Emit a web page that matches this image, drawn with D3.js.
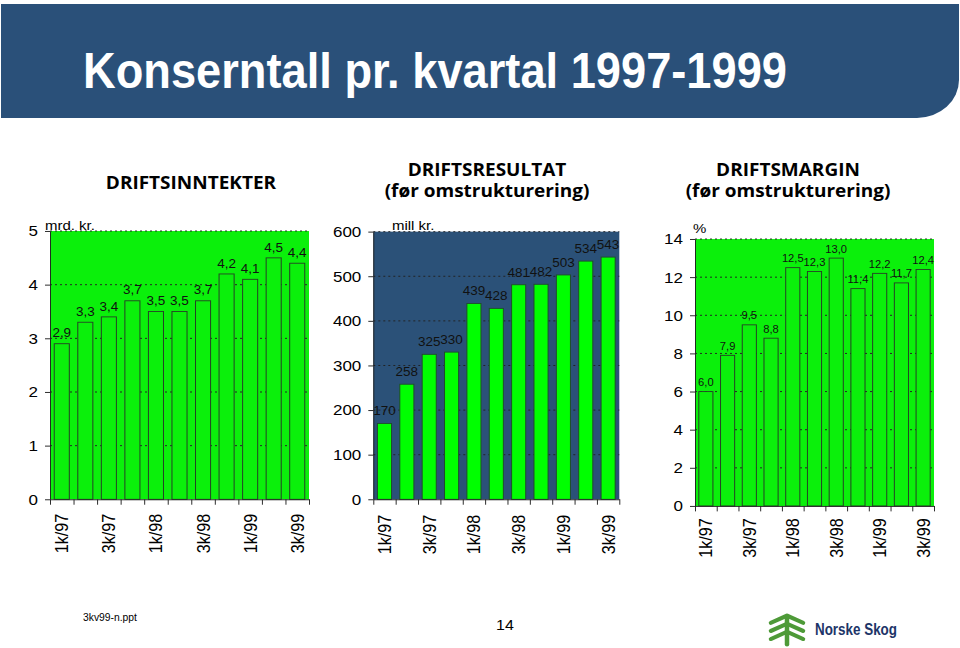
<!DOCTYPE html>
<html>
<head>
<meta charset="utf-8">
<script src="https://cdn.jsdelivr.net/npm/d3@7"></script>
<style>
  html, body { margin: 0; padding: 0; background: #ffffff; }
  svg { display: block; }
</style>
</head>
<body>
<svg id="chart" width="960" height="648"></svg>
<script>
// ---------------- DATA ----------------
const categories = ["1k/97","2k/97","3k/97","4k/97","1k/98","2k/98","3k/98","4k/98","1k/99","2k/99","3k/99"];
const tickLabels = ["1k/97","3k/97","1k/98","3k/98","1k/99","3k/99"];
const driftsinntekter = [2.9, 3.3, 3.4, 3.7, 3.5, 3.5, 3.7, 4.2, 4.1, 4.5, 4.4];      // mrd. kr.
const driftsresultat  = [170, 258, 325, 330, 439, 428, 481, 482, 503, 534, 543];      // mill kr.
const driftsmargin    = [6.0, 7.9, 9.5, 8.8, 12.5, 12.3, 13.0, 11.4, 12.2, 11.7, 12.4]; // %
const ticks1 = [0, 1, 2, 3, 4, 5];
const ticks2 = [0, 100, 200, 300, 400, 500, 600];
const ticks3 = [0, 2, 4, 6, 8, 10, 12, 14];

// ---------------- LAYOUT (slide drawn at 960x720, squeezed to 648) ----------------
const svg = d3.select("#chart");
const root = svg.append("g").attr("transform", "scale(1,0.9)");
const ARIAL = "'Liberation Sans', Arial, sans-serif";
const HEAD = "'Open Sans', 'Noto Sans', sans-serif";

// Banner
const bx0 = 1, by0 = 4.5, bx1 = 959, by1 = 131, r = 42;
root.append("path")
  .attr("d", `M${bx0},${by0} H${bx1} V${by1 - r} A${r},${r} 0 0 1 ${bx1 - r},${by1} H${bx0} Z`)
  .attr("fill", "#2a5079");
root.append("text")
  .attr("x", 83).attr("y", 98)
  .attr("font-family", ARIAL).attr("font-weight", "bold")
  .attr("font-size", 55).attr("fill", "#ffffff")
  .attr("textLength", 704).attr("lengthAdjust", "spacingAndGlyphs")
  .text("Konserntall pr. kvartal 1997-1999");

// Chart headings
function heading(lines, cx, y0) {
  lines.forEach((t, i) => {
    root.append("text")
      .attr("x", cx).attr("y", y0 + i * 23.5)
      .attr("text-anchor", "middle")
      .attr("font-family", HEAD).attr("font-weight", "bold")
      .attr("font-size", 19).attr("fill", "#000")
      .text(t);
  });
}
heading(["DRIFTSINNTEKTER"], 191, 210.5);
heading(["DRIFTSRESULTAT", "(før omstrukturering)"], 487, 195.5);
heading(["DRIFTSMARGIN", "(før omstrukturering)"], 788, 195.5);

function drawChart(cfg) {
  const g = root.append("g");
  const x = d3.scaleBand().domain(categories).range([cfg.x0, cfg.x1]).paddingInner(cfg.pad).paddingOuter(cfg.pad / 2);
  const xLin = d3.scaleLinear().domain([0, categories.length]).range([cfg.x0, cfg.x1]);
  const y = d3.scaleLinear().domain([0, d3.max(cfg.ticks)]).range([cfg.yBot, cfg.yTop]);

  // plot background
  g.append("rect")
    .attr("x", cfg.x0).attr("y", cfg.yTop)
    .attr("width", cfg.x1 - cfg.x0).attr("height", cfg.yBot - cfg.yTop)
    .attr("fill", cfg.bg);

  // gridlines
  g.selectAll("line.grid").data(cfg.ticks.filter(d => d > 0)).join("line")
    .attr("class", "grid")
    .attr("x1", cfg.x0).attr("x2", cfg.x1)
    .attr("y1", d => y(d)).attr("y2", d => y(d))
    .attr("stroke", "#222").attr("stroke-width", 1)
    .attr("stroke-dasharray", "2,3");

  // bars
  g.selectAll("rect.bar").data(cfg.values).join("rect")
    .attr("class", "bar")
    .attr("x", (d, i) => x(categories[i]))
    .attr("width", x.bandwidth())
    .attr("y", d => y(d))
    .attr("height", d => cfg.yBot - y(d))
    .attr("fill", cfg.barFill)
    .attr("stroke", cfg.barStroke).attr("stroke-width", 1);

  // value labels
  g.selectAll("text.val").data(cfg.values).join("text")
    .attr("class", "val")
    .attr("x", (d, i) => x(categories[i]) + x.bandwidth() / 2)
    .attr("y", d => y(d) - cfg.labelGap)
    .attr("text-anchor", "middle")
    .attr("font-family", ARIAL).attr("font-size", cfg.labelSize)
    .attr("fill", "#111")
    .text(cfg.fmt);

  // y axis
  const ya = g.append("g").attr("transform", `translate(${cfg.x0},0)`)
    .call(d3.axisLeft(y).tickValues(cfg.ticks).tickFormat(d3.format("d")).tickSize(5).tickSizeOuter(0).tickPadding(7));
  ya.select(".domain").attr("stroke", "#222");
  ya.selectAll(".tick line").attr("stroke", "#222");
  ya.selectAll(".tick text").attr("font-family", ARIAL).attr("font-size", 17).attr("fill", "#000");

  // x axis: tick marks at category boundaries
  const xa = g.append("g").attr("transform", `translate(0,${cfg.yBot})`)
    .call(d3.axisBottom(xLin).tickValues(d3.range(categories.length + 1)).tickFormat("").tickSize(6).tickSizeOuter(0));
  xa.select(".domain").attr("stroke", "#222");
  xa.selectAll(".tick line").attr("stroke", "#222");

  // x axis: rotated category labels (every other quarter)
  const xl = g.append("g").attr("transform", `translate(0,${cfg.yBot})`)
    .call(d3.axisBottom(x).tickValues(tickLabels).tickSize(0));
  xl.select(".domain").remove();
  xl.selectAll(".tick text")
    .attr("font-family", ARIAL).attr("font-size", 18).attr("fill", "#000")
    .attr("transform", `translate(0,${cfg.labelTop}) rotate(-90)`)
    .attr("x", 0).attr("y", 0).attr("dy", "0.36em")
    .attr("text-anchor", "end");

  // unit label
  g.append("text")
    .attr("x", cfg.unitX).attr("y", cfg.unitY)
    .attr("font-family", ARIAL).attr("font-size", 15).attr("fill", "#000")
    .text(cfg.unit);
}

const GREEN = "#0bf00b";
drawChart({
  x0: 50, x1: 309, yTop: 256.7, yBot: 554.8, pad: 0.36, ticks: ticks1,
  values: driftsinntekter, bg: GREEN, barFill: GREEN, barStroke: "#264226",
  fmt: d => d3.format(".1f")(d).replace(".", ","), labelGap: 7, labelSize: 13.5,
  unit: "mrd. kr.", unitX: 45, unitY: 256, labelTop: 16
});
drawChart({
  x0: 373.3, x1: 619.3, yTop: 257.4, yBot: 554.8, pad: 0.37, ticks: ticks2,
  values: driftsresultat, bg: "#2b5178", barFill: "#00ff00", barStroke: "#1f4d2a",
  fmt: d => String(d), labelGap: 9, labelSize: 13.5,
  unit: "mill kr.", unitX: 392, unitY: 255.5, labelTop: 17
});
drawChart({
  x0: 695, x1: 934, yTop: 265.6, yBot: 562.2, pad: 0.35, ticks: ticks3,
  values: driftsmargin, bg: GREEN, barFill: GREEN, barStroke: "#264226",
  fmt: d => d3.format(".1f")(d).replace(".", ","), labelGap: 6, labelSize: 11.2,
  unit: "%", unitX: 693, unitY: 259, labelTop: 13.5
});

// Footer
root.append("text")
  .attr("x", 83).attr("y", 690.5)
  .attr("font-family", ARIAL).attr("font-size", 13).attr("fill", "#000")
  .attr("textLength", 54).attr("lengthAdjust", "spacingAndGlyphs")
  .text("3kv99-n.ppt");
root.append("text")
  .attr("x", 505).attr("y", 700)
  .attr("text-anchor", "middle")
  .attr("font-family", ARIAL).attr("font-size", 16).attr("fill", "#000")
  .text("14");

// Logo: stylised tree mark + name
const logo = root.append("g").attr("fill", "none").attr("stroke", "#4e9a38")
  .attr("stroke-width", 4.5).attr("stroke-linecap", "round").attr("stroke-linejoin", "round");
const lx = 787;
logo.append("path").attr("d", `M${lx},686 V716`);
[0, 1, 2].forEach(k => {
  const yy = 692 + k * 9;
  logo.append("path").attr("d", `M${lx - 16},${yy} L${lx},${yy - 8} L${lx + 16},${yy}`);
});
root.append("text")
  .attr("x", 815).attr("y", 706)
  .attr("font-family", ARIAL).attr("font-weight", "bold")
  .attr("font-size", 19).attr("fill", "#1d3568")
  .attr("textLength", 82).attr("lengthAdjust", "spacingAndGlyphs")
  .text("Norske Skog");
</script>
</body>
</html>
